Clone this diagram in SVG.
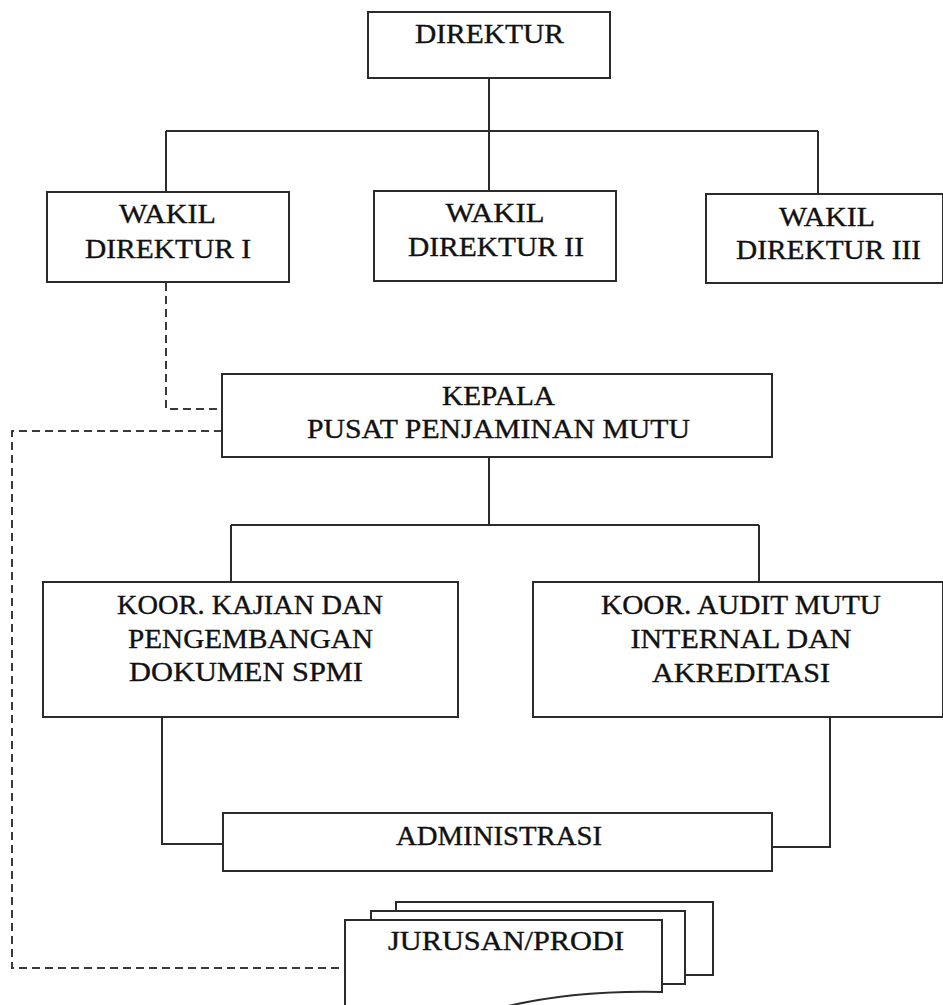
<svg xmlns="http://www.w3.org/2000/svg" width="943" height="1005" viewBox="0 0 943 1005">
<style>
.box{fill:#fff;stroke:#2b2b2b;stroke-width:2}
.ln{fill:none;stroke:#2b2b2b;stroke-width:2}
.dash{fill:none;stroke:#3a3a3a;stroke-width:2;stroke-dasharray:8 5}
.t{font-family:"Liberation Serif","Times New Roman",serif;font-size:26.5px;fill:#111;stroke:#111;stroke-width:0.35;text-anchor:middle}
</style>
<rect width="943" height="1005" fill="#fff"/>
<g id="connectors">
<path class="ln" d="M489,78 V131 M166,131 H818 M166,131 V192 M489,131 V191 M818,131 V194"/>
<path class="ln" d="M489,457 V525 M231,525 H759 M231,525 V582 M759,525 V582"/>
<path class="ln" d="M162,717 V844 H223 M830,718 V847 H772"/>
<path class="dash" d="M166,283 V409 H222"/>
<path class="dash" d="M222,431 H12 V968 H345"/>
</g>
<g id="direktur">
<rect class="box" x="368" y="12" width="242" height="66"/>
<text class="t" x="489.5" y="43" font-size="27.5" textLength="149" lengthAdjust="spacingAndGlyphs">DIREKTUR</text>
</g>
<g id="wakil1">
<rect class="box" x="47" y="192" width="242" height="90"/>
<text class="t" x="167.5" y="223" textLength="97" lengthAdjust="spacingAndGlyphs">WAKIL</text>
<text class="t" x="168" y="258" textLength="166" lengthAdjust="spacingAndGlyphs">DIREKTUR I</text>
</g>
<g id="wakil2">
<rect class="box" x="374" y="191" width="242" height="90"/>
<text class="t" x="495" y="222" textLength="99" lengthAdjust="spacingAndGlyphs">WAKIL</text>
<text class="t" x="496" y="256" textLength="176" lengthAdjust="spacingAndGlyphs">DIREKTUR II</text>
</g>
<g id="wakil3">
<rect class="box" x="706" y="194" width="237" height="89"/>
<text class="t" x="827" y="226" textLength="96" lengthAdjust="spacingAndGlyphs">WAKIL</text>
<text class="t" x="828.5" y="259" textLength="185" lengthAdjust="spacingAndGlyphs">DIREKTUR III</text>
</g>
<g id="kepala">
<rect class="box" x="222" y="374" width="550" height="83"/>
<text class="t" x="498.5" y="405" textLength="113" lengthAdjust="spacingAndGlyphs">KEPALA</text>
<text class="t" x="498.5" y="438" textLength="383" lengthAdjust="spacingAndGlyphs">PUSAT PENJAMINAN MUTU</text>
</g>
<g id="koor-kajian">
<rect class="box" x="43" y="582" width="415" height="135"/>
<text class="t" x="250" y="614" textLength="266" lengthAdjust="spacingAndGlyphs">KOOR. KAJIAN DAN</text>
<text class="t" x="250.5" y="648" textLength="245" lengthAdjust="spacingAndGlyphs">PENGEMBANGAN</text>
<text class="t" x="246" y="681" textLength="234" lengthAdjust="spacingAndGlyphs">DOKUMEN SPMI</text>
</g>
<g id="koor-audit">
<rect class="box" x="533" y="582" width="410" height="135"/>
<text class="t" x="741" y="614" textLength="280" lengthAdjust="spacingAndGlyphs">KOOR. AUDIT MUTU</text>
<text class="t" x="741" y="648" textLength="221" lengthAdjust="spacingAndGlyphs">INTERNAL DAN</text>
<text class="t" x="741" y="682" textLength="178" lengthAdjust="spacingAndGlyphs">AKREDITASI</text>
</g>
<g id="administrasi">
<rect class="box" x="223" y="813" width="549" height="58"/>
<text class="t" x="499" y="845" textLength="206" lengthAdjust="spacingAndGlyphs">ADMINISTRASI</text>
</g>
<g id="jurusan-prodi">
<path class="box" d="M396,911 V902 H713 V975 H685"/>
<path class="box" d="M371,920 V911 H685 V984 H662"/>
<path class="box" d="M345,1012 V920 H662 V992 C620,991 560,993 500,1008 L498,1012 Z"/>
<text class="t" x="506" y="950" textLength="236" lengthAdjust="spacingAndGlyphs">JURUSAN/PRODI</text>
</g>
</svg>
